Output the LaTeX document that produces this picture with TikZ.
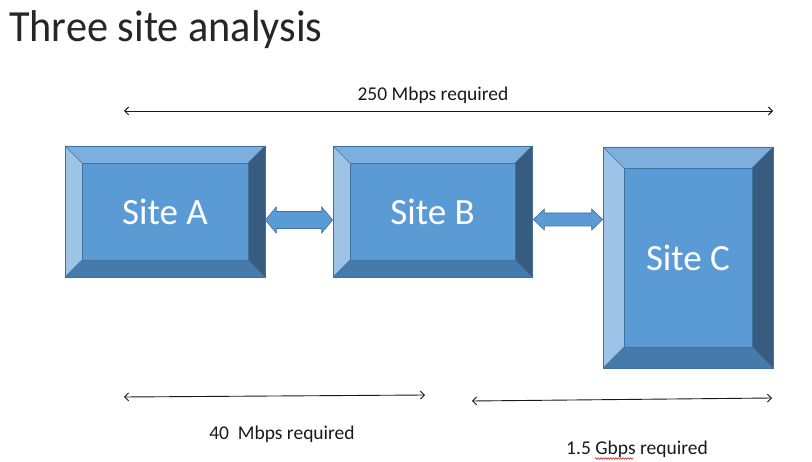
\documentclass[tikz,border=0pt]{standalone}
\usepackage{fontspec}
\setmainfont{Carlito}
\newfontfamily\titlefont[FakeStretch=0.95]{Carlito}
\usetikzlibrary{arrows.meta,calc,decorations.pathmorphing}
\definecolor{cmid}{HTML}{5B9BD5}
\definecolor{ctop}{HTML}{7CAFDD}
\definecolor{cleft}{HTML}{9DC3E6}
\definecolor{cright}{HTML}{375C80}
\definecolor{cbot}{HTML}{467AAB}
\definecolor{cline}{HTML}{41719C}
\newcommand\blockarr[5]{%
  \fill[cmid, draw=cline, line width=0.6pt]
    (#1) -- ([xshift=#5pt,yshift=#3pt]#1) -- ([xshift=#5pt,yshift=#4pt]#1)
    -- ([xshift=-#5pt,yshift=#4pt]#2) -- ([xshift=-#5pt,yshift=#3pt]#2) -- (#2)
    -- ([xshift=-#5pt,yshift=-#3pt]#2) -- ([xshift=-#5pt,yshift=-#4pt]#2)
    -- ([xshift=#5pt,yshift=-#4pt]#1) -- ([xshift=#5pt,yshift=-#3pt]#1) -- cycle;}
\tikzset{
  bevel/.store in=\bv, bevel=17,
  site/.style={rectangle, draw=cline, line width=0.6pt, inner sep=0pt, text=white,
    font=\fontsize{37}{40}\selectfont,
    path picture={
      \fill[ctop] (path picture bounding box.north west) -- (path picture bounding box.north east)
        -- ([xshift=-\bv pt,yshift=-\bv pt]path picture bounding box.north east)
        -- ([xshift=\bv pt,yshift=-\bv pt]path picture bounding box.north west) -- cycle;
      \fill[cright] (path picture bounding box.north east) -- (path picture bounding box.south east)
        -- ([xshift=-\bv pt,yshift=\bv pt]path picture bounding box.south east)
        -- ([xshift=-\bv pt,yshift=-\bv pt]path picture bounding box.north east) -- cycle;
      \fill[cbot] (path picture bounding box.south east) -- (path picture bounding box.south west)
        -- ([xshift=\bv pt,yshift=\bv pt]path picture bounding box.south west)
        -- ([xshift=-\bv pt,yshift=\bv pt]path picture bounding box.south east) -- cycle;
      \fill[cleft] (path picture bounding box.south west) -- (path picture bounding box.north west)
        -- ([xshift=\bv pt,yshift=-\bv pt]path picture bounding box.north west)
        -- ([xshift=\bv pt,yshift=\bv pt]path picture bounding box.south west) -- cycle;
      \filldraw[cmid, draw=cline, line width=0.5pt]
        ([xshift=\bv pt,yshift=-\bv pt]path picture bounding box.north west) rectangle
        ([xshift=-\bv pt,yshift=\bv pt]path picture bounding box.south east);
      \draw[cline, line width=0.5pt]
        (path picture bounding box.north west) -- ([xshift=\bv pt,yshift=-\bv pt]path picture bounding box.north west)
        (path picture bounding box.north east) -- ([xshift=-\bv pt,yshift=-\bv pt]path picture bounding box.north east)
        (path picture bounding box.south east) -- ([xshift=-\bv pt,yshift=\bv pt]path picture bounding box.south east)
        (path picture bounding box.south west) -- ([xshift=\bv pt,yshift=\bv pt]path picture bounding box.south west);
    }},
  thin/.style={draw=black!90, line width=0.9pt, {Straight Barb[length=4pt,width=8pt]}-{Straight Barb[length=4pt,width=8pt]}},
  lbl/.style={text=black!90, font=\fontsize{19.5}{22}\selectfont, inner sep=0pt, anchor=base}
}
\begin{document}
\begin{tikzpicture}[x=1pt,y=-1pt]
\useasboundingbox (0,0) rectangle (812,462);
\node[anchor=base west, inner sep=0pt, text=black!85, font=\titlefont\fontsize{44.5}{50}\selectfont] (title) at (9,42) {Three site analysis};

\node[site, bevel=17, minimum width=200pt, minimum height=131pt] (A) at (165,211.5) {Site A};
\node[site, bevel=17, minimum width=199pt, minimum height=131pt] (B) at (432.5,211.5) {Site B};
\node[site, bevel=21, minimum width=170pt, minimum height=221pt] (C) at (688,257.5) {Site C};

\coordinate (ab1) at ([yshift=-8.5pt]A.east);
\coordinate (ab2) at ([yshift=-8.5pt]B.west);
\coordinate (bc1) at ([xshift=1pt,yshift=-8pt]B.east);
\coordinate (bc2) at ([yshift=38pt]C.west);
\blockarr{ab1}{ab2}{13}{8.5}{11}
\blockarr{bc1}{bc2}{10.5}{6.5}{11}

\coordinate (t1) at (124,111);
\coordinate (t2) at (773,111);
\coordinate (l1) at (124,397);
\coordinate (l2) at (425,395);
\coordinate (r1) at (472,401);
\coordinate (r2) at (772,398);
\draw[thin] (t1) -- (t2);
\draw[thin] (l1) -- (l2);
\draw[thin] (r1) -- (r2);

\node[lbl] (lt) at (433,101) {250 Mbps required};
\node[lbl] (ll) at (282,440) {40\ \ Mbps required};
\node[lbl] (lr) at (637,455) {1.5 Gbps required};
\draw[red!80!black, line width=0.5pt, decorate, decoration={snake, amplitude=0.8pt, segment length=2.5pt}] (595,458.5) -- (633,458.5);
\end{tikzpicture}
\end{document}
